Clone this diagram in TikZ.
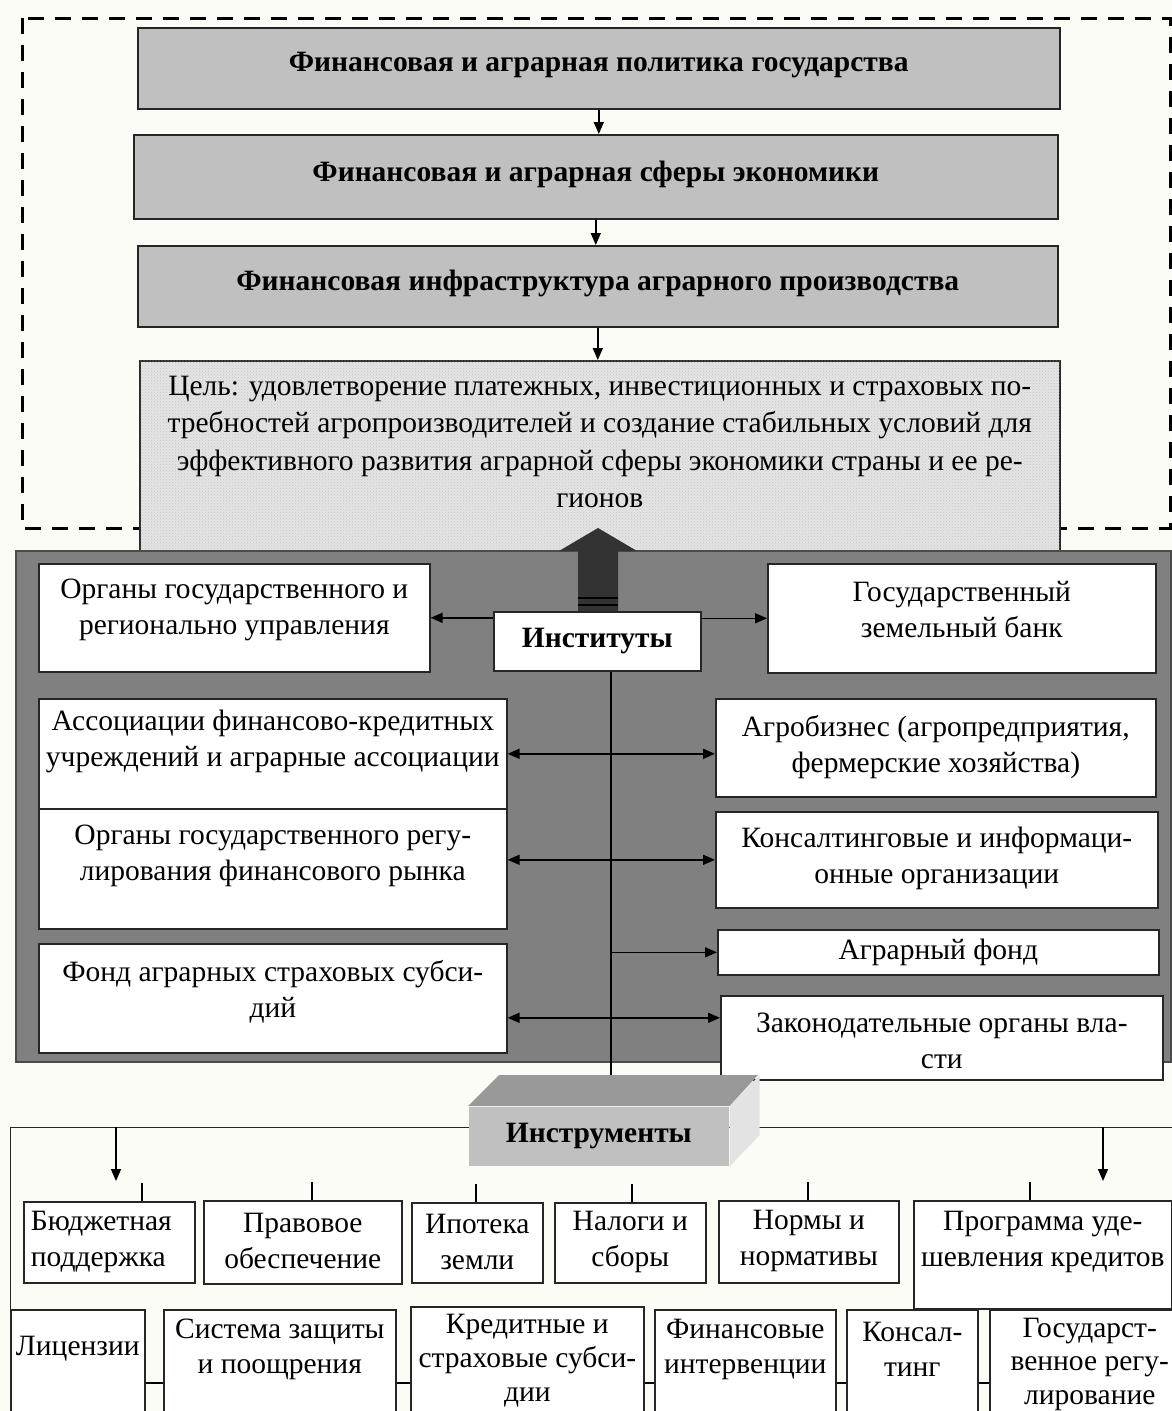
\documentclass[tikz,border=0pt]{standalone}
\usepackage{fontspec}
\setmainfont{Liberation Serif}
\usetikzlibrary{arrows.meta,patterns}

\tikzset{
every picture/.style={
line width=1.6pt
}}

\definecolor{paper}{RGB}{252,252,246}
\definecolor{titlegray}{RGB}{192,192,192}
\definecolor{panelgray}{RGB}{128,128,128}
\definecolor{goalgray}{RGB}{228,228,228}

\begin{document}
\begin{tikzpicture}[x=1pt, y=-1pt,
font=\fontsize{29.5}{36}\selectfont,
title/.style = {rectangle, draw=black!85, fill=titlegray, anchor=north west, text depth=12pt, font=\fontsize{29.5}{36}\selectfont\bfseries},
cell/.style = {rectangle, draw=black!85, fill=white, anchor=north west, inner sep=0pt},
txt/.style = {align=center, inner sep=0pt, anchor=center},
dashbox/.style = {line width=3pt, dash pattern=on 16pt off 11pt},
arr/.style = {-{Triangle[length=12pt,width=10pt]}},
darr/.style = {{Triangle[length=12pt,width=10pt]}-{Triangle[length=12pt,width=10pt]}}]

\fill[paper] (0,0) rectangle (1172,1411);
\useasboundingbox (0,0) rectangle (1172,1411);

% state level
\draw[dashbox] (22,18) rectangle (1170,528);

\node[title, minimum width=922, minimum height=81] (pol) at (137,27) {Финансовая и аграрная политика государства};
\node[title, minimum width=924, minimum height=84] (sph) at (133,134) {Финансовая и аграрная сферы экономики};
\node[title, minimum width=920, minimum height=81] (inf) at (137,245) {Финансовая инфраструктура аграрного производства};

\node[cell, fill=goalgray, postaction={pattern=crosshatch dots, pattern color=black!22},
  minimum width=920, minimum height=192,
  label={[txt, yshift=-82pt, font=\fontsize{29.5}{37.5}\selectfont]north:{Цель: удовлетворение платежных, инвестиционных и страховых по-\\требностей агропроизводителей и создание стабильных условий для\\эффективного развития аграрной сферы экономики страны и ее ре-\\гионов}}] (goal) at (139,360) {};

\draw[arr] (pol.south) -- (pol.south |- sph.north);
\draw[arr] (sph.south) -- (sph.south |- inf.north);
\draw[arr] (inf.south) -- (inf.south |- goal.north);

% institutions
\node[rectangle, draw=black!70, fill=panelgray, inner sep=0pt, anchor=north west,
  minimum width=1155, minimum height=511] (panel) at (15,550) {};

\fill[black!80] (578,611) -- (578,551) -- (559,551) -- (598,528) -- (637,551) -- (618,551) -- (618,611) -- cycle;
\draw[line width=2.5pt] (578,598) -- (618,598) (578,605) -- (618,605);

\node[cell, minimum width=207, minimum height=59, font=\fontsize{29.5}{36}\selectfont\bfseries] (inst) at (493,611) {Институты};

\node[cell, minimum width=391, minimum height=108,
  label={[txt, yshift=-47pt]north:{Органы государственного и\\регионально управления}}] (orgGU) at (38,563) {};
\node[cell, minimum width=468, minimum height=110,
  label={[txt, yshift=-43pt]north:{Ассоциации финансово-кредитных\\учреждений и аграрные ассоциации}}] (assoc) at (38,698) {};
\node[cell, minimum width=468, minimum height=120,
  label={[txt, yshift=-48pt]north:{Органы государственного регу-\\лирования финансового рынка}}] (regFR) at (38,808) {};
\node[cell, minimum width=468, minimum height=109,
  label={[txt, yshift=-49pt]north:{Фонд аграрных страховых субси-\\дий}}] (fondSub) at (38,943) {};

\node[cell, minimum width=388, minimum height=109,
  label={[txt, yshift=-47pt]north:{Государственный\\земельный банк}}] (zemBank) at (767,563) {};
\node[cell, minimum width=440, minimum height=98,
  label={[txt, yshift=-49pt]north:{Агробизнес (агропредприятия,\\фермерские хозяйства)}}] (agro) at (715,698) {};
\node[cell, minimum width=442, minimum height=96,
  label={[txt, yshift=-47pt]north:{Консалтинговые и информаци-\\онные организации}}] (konsalt) at (715,811) {};
\node[cell, minimum width=441, minimum height=45] (agrFond) at (717,929) {Аграрный фонд};
\node[cell, minimum width=442, minimum height=84,
  label={[txt, yshift=-46pt]north:{Законодательные органы вла-\\сти}}] (zakon) at (720,995) {};

\coordinate (trunk) at (611,1075);
\coordinate (fs) at ([yshift=-19.5pt]fondSub.east);

\draw[arr] (orgGU.east -| inst.west) -- (orgGU.east);
\draw[arr] (zemBank.west -| inst.east) -- (zemBank.west);
\draw (inst.south -| trunk) -- (trunk);
\draw[darr] (assoc.east) -- (assoc.east -| agro.west);
\draw[darr] (konsalt.west -| regFR.east) -- (konsalt.west);
\draw[arr] (agrFond.west -| trunk) -- (agrFond.west);
\draw[darr] (fs) -- (fs -| zakon.west);

% instruments
\node[rectangle, draw=black!85, line width=1.4pt, inner sep=0pt, anchor=north west,
  minimum width=1200, minimum height=320] (instFrame) at (10,1127) {};

\node[fill=titlegray, inner sep=0pt, anchor=north west, minimum width=260, minimum height=59,
  font=\fontsize{29.5}{36}\selectfont\bfseries] (instr) at (468,1106) {Инструменты};
\fill[black!40] (instr.north west) -- ++(31,-31) -- ++(259,0) -- (instr.north east) -- cycle;
\fill[black!11] (instr.north east) -- ++(30,-31) -- ++(0,60) -- (instr.south east) -- cycle;

\coordinate (lftIn) at (116,1181);
\coordinate (rgtIn) at (1103,1181);
\draw[arr] (lftIn |- instFrame.north) -- (lftIn);
\draw[arr] (rgtIn |- instFrame.north) -- (rgtIn);

\node[cell, minimum width=171, minimum height=81,
  label={[txt, align=left, yshift=-41pt, xshift=-8pt]north:{Бюджетная\\поддержка}}] (budget) at (23,1201) {};
\node[cell, minimum width=198, minimum height=83,
  label={[txt, yshift=-41pt]north:{Правовое\\обеспечение}}] (pravo) at (203,1200) {};
\node[cell, minimum width=131, minimum height=80,
  label={[txt, yshift=-40pt]north:{Ипотека\\земли}}] (ipot) at (411,1202) {};
\node[cell, minimum width=151, minimum height=80,
  label={[txt, yshift=-40pt]north:{Налоги и\\сборы}}] (nalog) at (554,1202) {};
\node[cell, minimum width=180, minimum height=82,
  label={[txt, yshift=-41pt]north:{Нормы и\\нормативы}}] (norm) at (718,1200) {};
\node[cell, minimum width=258, minimum height=108,
  label={[txt, yshift=-42pt]north:{Программа уде-\\шевления кредитов}}] (progr) at (913,1200) {};

\foreach \n/\x in {budget/142, pravo/312, ipot/476, nalog/632, norm/808, progr/1030}
  \draw[line width=1.4pt] (\n.north -| \x,0) -- ++(0,-18);

\draw[line width=1.4pt] (10,1383) -- (1190,1383);

\node[cell, minimum width=134, minimum height=120,
  label={[txt, yshift=-40pt]north:{Лицензии}}] (lic) at (10,1309) {};
\node[cell, minimum width=232, minimum height=120,
  label={[txt, yshift=-40pt, font=\fontsize{29.5}{35}\selectfont]north:{Система защиты\\и поощрения}}] (sysz) at (163,1309) {};
\node[cell, minimum width=233, minimum height=120,
  label={[txt, yshift=-55pt, font=\fontsize{29.5}{34}\selectfont]north:{Кредитные и\\страховые субси-\\дии}}] (kred) at (410,1306) {};
\node[cell, minimum width=181, minimum height=120,
  label={[txt, yshift=-40pt, font=\fontsize{29.5}{35}\selectfont]north:{Финансовые\\интервенции}}] (finInt) at (654,1309) {};
\node[cell, minimum width=131, minimum height=120,
  label={[txt, yshift=-40pt, font=\fontsize{29.5}{35}\selectfont]north:{Консал-\\тинг}}] (kons) at (846,1309) {};
\node[cell, minimum width=200, minimum height=120,
  label={[txt, yshift=-55pt, font=\fontsize{29.5}{33.5}\selectfont]north:{Государст-\\венное регу-\\лирование}}] (gosReg) at (989,1309) {};
\end{tikzpicture}
\end{document}
